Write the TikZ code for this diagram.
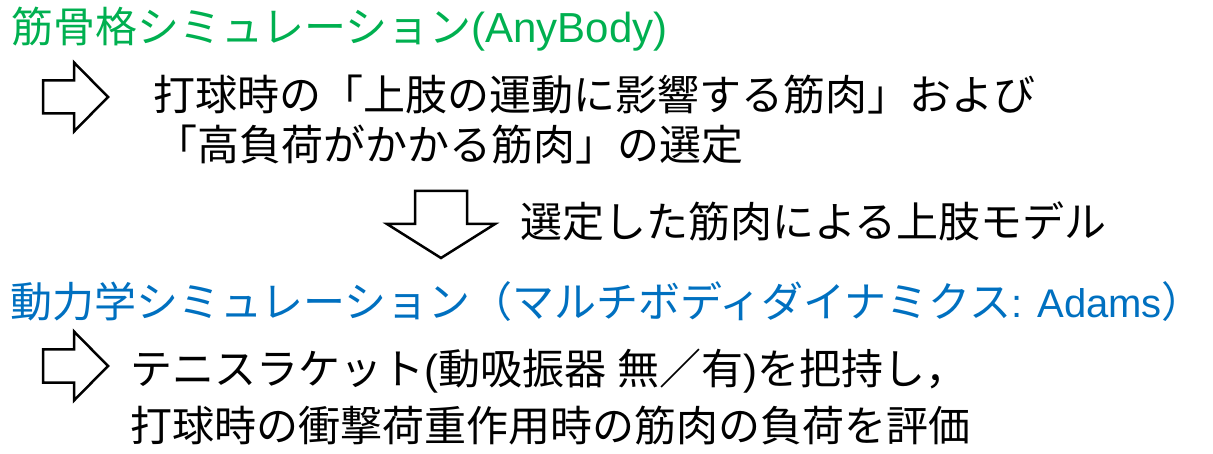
\documentclass[tikz,border=0pt]{standalone}
\usepackage{fontspec}
\setmainfont{Noto Sans CJK JP}
\newfontfamily\latinfont{Liberation Sans}
\newcommand\eng[1]{{\latinfont #1}}
\newcommand\engsmall[1]{{\latinfont\fontsize{40}{40}\selectfont #1}}
\definecolor{simgreen}{HTML}{00B050}
\definecolor{simblue}{HTML}{0070C0}

\begin{document}
\begin{tikzpicture}
  [x=1pt,y=-1pt,every node/.style={inner sep=0pt,anchor=base west,font=\fontsize{42}{42}\selectfont}]

	\tikzset{
	blockarrow/.style = {draw=black,line width=2.5pt,line join=miter,fill=white}
	}

  \useasboundingbox (0,0) rectangle (1213,454);

  \node[text=simgreen] (musculo) at (11,42.5) {筋骨格シミュレーション\eng{(AnyBody)}};
  \node (select1) at (153,111) {打球時の「上肢の運動に影響する筋肉」および};
  \node (select2) at (155,161) {「高負荷がかかる筋肉」の選定};
  \node (model) at (520,238) {選定した筋肉による上肢モデル};
  \node[text=simblue] (dynamics) at (10,318) {動力学シミュレーション（マルチボディダイナミクス\engsmall{: Adams}）};
  \node (racket) at (130,384) {テニスラケット\eng{(}動吸振器\eng{ }無／有\eng{)}を把持し，};
  \node (evaluate) at (130,441) {打球時の衝撃荷重作用時の筋肉の負荷を評価};

  \foreach \c in {97,366}
    \draw[blockarrow] (43,\c-16.5) -- (74,\c-16.5) -- (74,\c-34.5) -- (108,\c)
      -- (74,\c+34.5) -- (74,\c+16.5) -- (43,\c+16.5) -- cycle;

  \draw[blockarrow] (415,191) -- (467,191) -- (467,224) -- (495,224) -- (441,258)
    -- (387,224) -- (415,224) -- cycle;

\end{tikzpicture}
\end{document}
